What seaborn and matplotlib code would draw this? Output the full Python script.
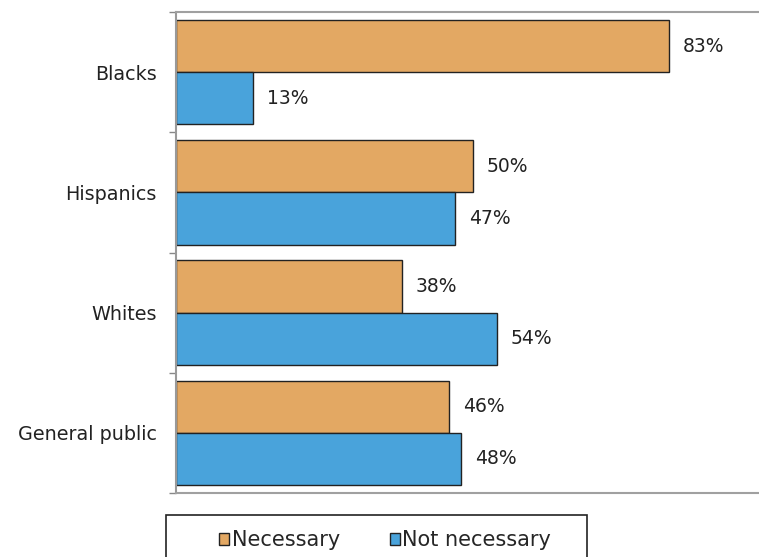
import pandas as pd
import seaborn as sns
import matplotlib.pyplot as plt
from matplotlib.patches import Rectangle, Patch

# data
groups = ['Blacks', 'Hispanics', 'Whites', 'General public']
necessary = [83, 50, 38, 46]
not_necessary = [13, 47, 54, 48]
series = ['Necessary', 'Not necessary']
colors = ['#E3A863', '#49A3DB']

df = pd.DataFrame({
    'group': groups * 2,
    'series': [series[0]] * len(groups) + [series[1]] * len(groups),
    'value': necessary + not_necessary,
})

sns.set_theme(style='white')
plt.rcParams['font.family'] = ['DejaVu Sans']

fig = plt.figure(figsize=(7.59, 5.57), dpi=100)
ax = fig.add_axes([176 / 759, 64 / 557, 594 / 759, 481 / 557])

sns.barplot(data=df, y='group', x='value', hue='series', order=groups,
            hue_order=series, palette=colors, orient='h', width=0.867,
            edgecolor='#222222', linewidth=1, saturation=1, legend=False, ax=ax)

for cont in ax.containers:
    ax.bar_label(cont, fmt='%d%%', padding=10, fontsize=13.5, color='#222222')

ax.set_xlim(0, 100)
ax.set_ylim(len(groups) - 0.5, -0.5)
ax.set_xlabel('')
ax.set_ylabel('')
ax.set_xticks([])
ax.tick_params(axis='y', which='major', length=0, pad=14, labelsize=13.8,
               labelcolor='#222222')
ax.set_yticks([i - 0.5 for i in range(len(groups) + 1)], minor=True)
ax.tick_params(axis='y', which='minor', length=5, width=1, color='#888888',
               direction='out', left=True)

for side in ['top', 'bottom']:
    ax.spines[side].set_color('#A0A0A0')
    ax.spines[side].set_linewidth(1.5)
ax.spines['left'].set_color('#999999')
ax.spines['left'].set_linewidth(1.5)
ax.spines['right'].set_visible(False)

# legend at the bottom with a plain box
handles = [Patch(facecolor=c, edgecolor='#222222', linewidth=1) for c in colors]
fig.legend(handles, series, loc='center left', bbox_to_anchor=(219 / 759, 1 - 540 / 557),
           ncol=2, frameon=False, fontsize=15, handlelength=0.5, handleheight=0.5,
           handletextpad=0.1, columnspacing=2.4, borderpad=0, borderaxespad=0)
fig.patches.append(Rectangle((166 / 759, -0.05), 421 / 759, 0.05 + 42 / 557,
                             transform=fig.transFigure, fill=False,
                             edgecolor='#222222', linewidth=1.2))

fig.savefig('out.png', dpi=100)
